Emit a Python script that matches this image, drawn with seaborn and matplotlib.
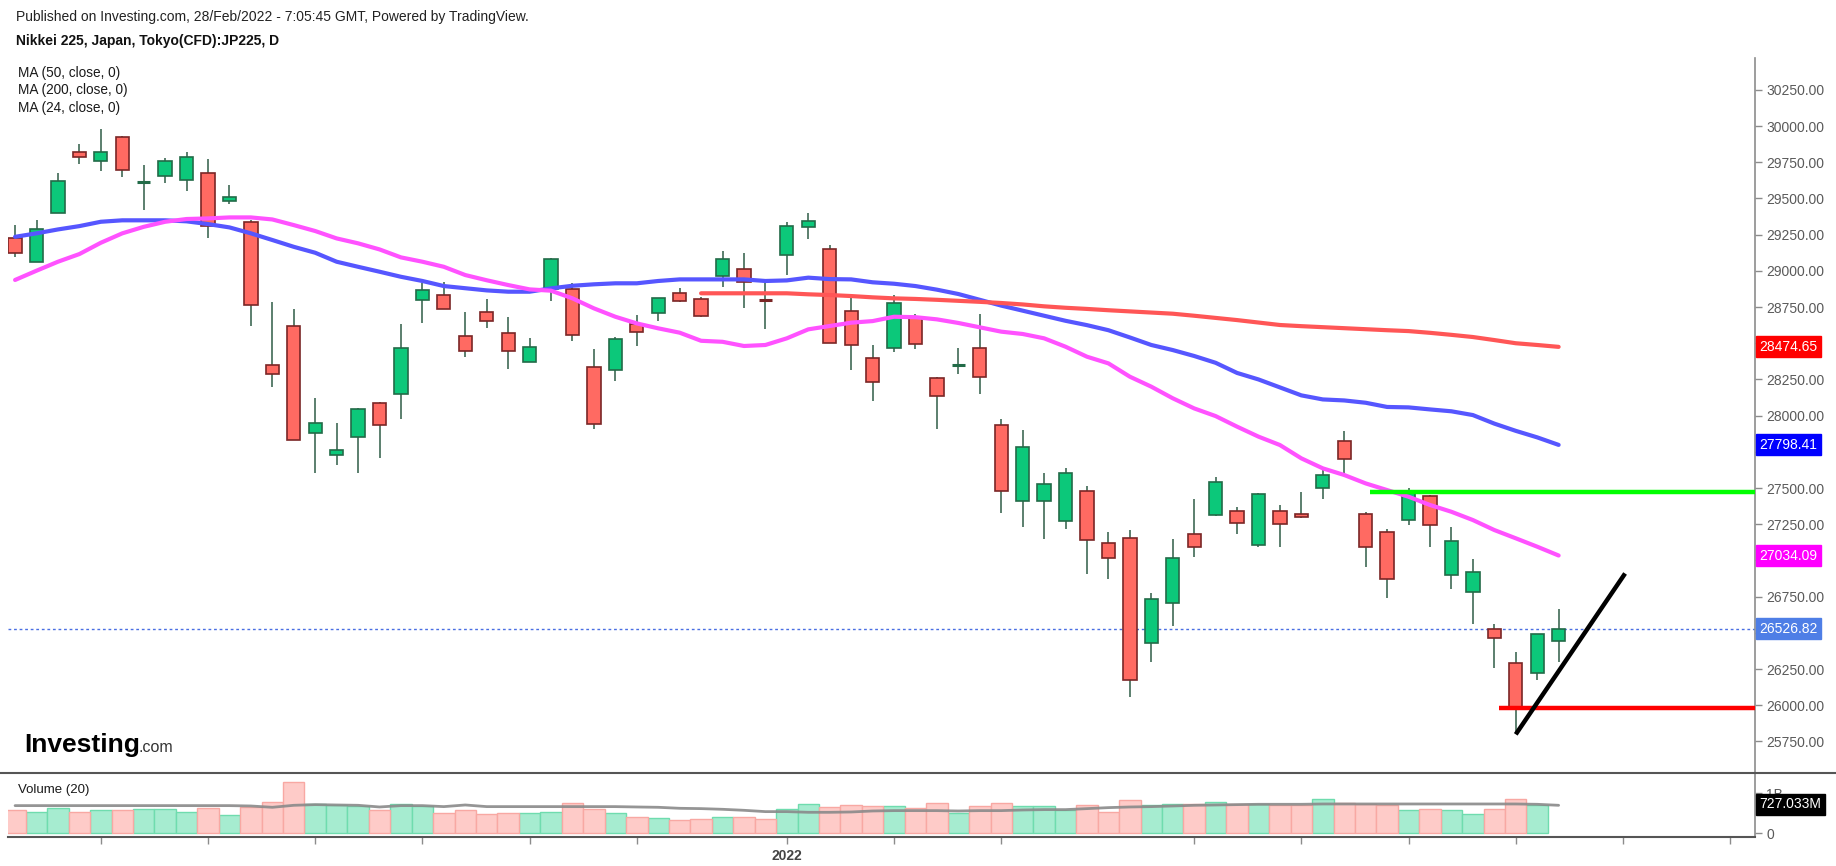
import numpy as np
import pandas as pd
import seaborn as sns
import matplotlib.pyplot as plt
from matplotlib.lines import Line2D

# daily candles, oldest first
opens = [29224, 29059, 29397, 29818, 29758, 29924, 29612, 29655, 29627, 29673,
         29482, 29337, 28352, 28621, 27878, 27730, 27850, 28085, 28152, 28798,
         28835, 28550, 28714, 28568, 28368, 28876, 28872, 28336, 28315, 28633,
         28711, 28845, 28803, 28964, 29010, 28808, 29111, 29300, 29148, 28722,
         28396, 28465, 28674, 28257, 28343, 28465, 27938, 27408, 27408, 27270,
         27479, 27118, 27153, 26432, 26704, 27180, 27314, 27341, 27106, 27341,
         27322, 27498, 27827, 27318, 27196, 27279, 27445, 26902, 26780, 26524,
         26289, 26220, 26446]
highs = [29314, 29351, 29675, 29876, 29979, 29930, 29728, 29779, 29823, 29770,
         29590, 29351, 28787, 28734, 28120, 27947, 28050, 28096, 28633, 28918,
         28925, 28718, 28803, 28683, 28534, 29086, 28914, 28460, 28545, 28695,
         28815, 28881, 28821, 29134, 29121, 28918, 29339, 29399, 29178, 28831,
         28488, 28831, 28704, 28265, 28465, 28700, 27975, 27901, 27602, 27638,
         27512, 27198, 27210, 26773, 27148, 27422, 27578, 27371, 27463, 27381,
         27474, 27643, 27896, 27336, 27215, 27498, 27452, 27233, 27008, 26559,
         26369, 26495, 26667]
lows = [29097, 29059, 29397, 29738, 29691, 29646, 29420, 29608, 29553, 29229,
        29461, 28621, 28200, 27832, 27606, 27657, 27606, 27709, 27977, 28642,
        28735, 28407, 28607, 28322, 28368, 28794, 28517, 27905, 28241, 28483,
        28656, 28788, 28679, 28890, 28745, 28598, 28969, 29217, 28499, 28313,
        28103, 28441, 28460, 27905, 28287, 28149, 27329, 27233, 27148, 27217,
        26904, 26872, 26059, 26300, 26550, 27026, 27307, 27182, 27090, 27095,
        27295, 27424, 27590, 26956, 26743, 27242, 27095, 26801, 26559, 26258,
        25799, 26174, 26300]
closes = [29121, 29291, 29622, 29784, 29818, 29696, 29614, 29758, 29784, 29309,
          29508, 28766, 28290, 27832, 27947, 27765, 28044, 27935, 28465, 28867,
          28738, 28446, 28653, 28446, 28472, 29079, 28557, 27944, 28527, 28575,
          28810, 28791, 28688, 29079, 28921, 28802, 29309, 29344, 28499, 28490,
          28230, 28775, 28494, 28135, 28347, 28264, 27477, 27781, 27530, 27602,
          27141, 27019, 26174, 26731, 27015, 27090, 27539, 27256, 27456, 27253,
          27297, 27592, 27703, 27090, 26874, 27470, 27247, 27134, 26920, 26462,
          25979, 26490, 26527]

ma50 = [29235, 29259, 29286, 29309, 29339, 29349, 29349, 29349, 29342, 29323,
        29300, 29259, 29213, 29166, 29125, 29063, 29028, 28994, 28959, 28930,
        28895, 28880, 28865, 28856, 28856, 28879, 28897, 28907, 28914, 28914,
        28930, 28941, 28941, 28941, 28941, 28930, 28934, 28953, 28943, 28941,
        28921, 28911, 28895, 28870, 28840, 28800, 28760, 28725, 28690, 28655,
        28625, 28590, 28540, 28488, 28453, 28412, 28365, 28295, 28250, 28195,
        28140, 28112, 28105, 28089, 28060, 28057, 28043, 28030, 28004, 27945,
        27895, 27850, 27798]
ma24 = [28937, 29001, 29063, 29116, 29194, 29259, 29304, 29339, 29358, 29362,
        29369, 29369, 29355, 29316, 29275, 29224, 29190, 29148, 29093, 29063,
        29028, 28971, 28935, 28902, 28872, 28863, 28810, 28741, 28683, 28637,
        28603, 28573, 28517, 28510, 28481, 28488, 28534, 28596, 28619, 28642,
        28653, 28683, 28680, 28665, 28640, 28610, 28580, 28564, 28534, 28476,
        28407, 28361, 28269, 28200, 28120, 28050, 27997, 27924, 27855, 27797,
        27705, 27636, 27590, 27532, 27486, 27440, 27383, 27336, 27279, 27210,
        27153, 27095, 27034]
ma200_start = 32
ma200 = [28845, 28845, 28845, 28845, 28845, 28838, 28833, 28826, 28817, 28810,
         28806, 28800, 28793, 28786, 28778, 28768, 28755, 28745, 28737, 28728,
         28720, 28712, 28704, 28690, 28675, 28660, 28643, 28626, 28618, 28611,
         28604, 28597, 28590, 28584, 28572, 28558, 28543, 28522, 28500, 28488,
         28475]

# volume in billions (no bar yet for the last candle)
volume = [0.583, 0.542, 0.633, 0.542, 0.575, 0.575, 0.600, 0.600, 0.542, 0.633,
          0.458, 0.667, 0.792, 1.290, 0.733, 0.708, 0.683, 0.583, 0.733, 0.683,
          0.508, 0.583, 0.483, 0.508, 0.508, 0.542, 0.767, 0.608, 0.508, 0.417,
          0.375, 0.333, 0.358, 0.417, 0.417, 0.358, 0.600, 0.733, 0.667, 0.708,
          0.675, 0.675, 0.633, 0.758, 0.508, 0.675, 0.758, 0.675, 0.675, 0.583,
          0.708, 0.542, 0.833, 0.708, 0.733, 0.733, 0.792, 0.733, 0.733, 0.708,
          0.708, 0.850, 0.758, 0.733, 0.708, 0.583, 0.600, 0.583, 0.483, 0.600,
          0.850, 0.708]
volume_ma = [0.692, 0.692, 0.692, 0.692, 0.692, 0.692, 0.692, 0.692, 0.692, 0.692,
             0.692, 0.683, 0.650, 0.700, 0.717, 0.708, 0.700, 0.658, 0.692, 0.692,
             0.667, 0.708, 0.667, 0.667, 0.667, 0.667, 0.667, 0.667, 0.667, 0.658,
             0.650, 0.625, 0.617, 0.600, 0.575, 0.542, 0.542, 0.525, 0.525, 0.533,
             0.558, 0.567, 0.567, 0.567, 0.558, 0.567, 0.567, 0.583, 0.592, 0.592,
             0.617, 0.642, 0.658, 0.667, 0.683, 0.700, 0.708, 0.717, 0.725, 0.725,
             0.725, 0.733, 0.733, 0.733, 0.733, 0.733, 0.733, 0.733, 0.733, 0.733,
             0.733, 0.725, 0.700]

price_ticks = [25750, 26000, 26250, 26500, 26750, 27000, 27250, 27500, 27750, 28000,
               28250, 28500, 28750, 29000, 29250, 29500, 29750, 30000, 30250]
hidden_ticks = [26500, 27000, 27750, 28500]   # covered by the last-value boxes
vol_ticks = [0, 1]
vol_tick_labels = ['0', '1B']
date_ticks = [4, 9, 14, 19, 24, 29, 36, 41, 46, 55, 60, 65, 70, 75, 80]
date_labels = ['', '', '', '', '', '', '2022', '', '', '', '', '', '', '', '']

last_labels = ['28474.65', '27798.41', '27034.09', '26526.82']
last_values = [28474.65, 27798.41, 27034.09, 26526.82]
last_colors = ['#ff0000', '#0000ff', '#ff00ff', '#4e7ee6']
vol_label = '727.033M'
vol_label_value = 0.727

# drawn lines
resistance = [63.2, 27470]
support = [69.2, 25979]
trend_x = [70.0, 75.1]
trend_y = [25799, 26910]

W, H = 1836, 866
XMIN, XMAX = -0.33, 81.16

sns.set_theme(style='white')
plt.rcParams['font.family'] = ['Liberation Sans', 'DejaVu Sans']

df = pd.DataFrame({'open': opens, 'high': highs, 'low': lows, 'close': closes,
                   'ma50': ma50, 'ma24': ma24})
df['i'] = np.arange(len(df))
df_ma200 = pd.DataFrame({'i': np.arange(ma200_start, ma200_start + len(ma200)), 'ma200': ma200})
vol_df = pd.DataFrame({'i': np.arange(len(volume)), 'vol': volume})
vol_df['up'] = (df['close'] >= df['open']).iloc[:len(volume)].values
vma_df = pd.DataFrame({'i': np.arange(len(volume_ma)), 'vma': volume_ma})


def frame(x0, y0, x1, y1):
    return [x0 / W, 1 - y1 / H, (x1 - x0) / W, (y1 - y0) / H]


fig = plt.figure(figsize=(W / 100, H / 100), dpi=100)
ax = fig.add_axes(frame(8, 58, 1755, 773))
vax = fig.add_axes(frame(8, 773, 1755, 837))

green, green_edge = '#0cc87a', '#226b48'
red, red_edge = '#ff6a62', '#7a2626'
wick = '#2f5d46'

# candles
ax.vlines(df['i'], df['low'], df['high'], color=wick, lw=1.1, zorder=2)
body_lo = np.minimum(df['open'], df['close'])
body_h = (df['close'] - df['open']).abs()
up = df['close'] >= df['open']
doji = body_h < 8
m = up & ~doji
ax.bar(df['i'][m], body_h[m], bottom=body_lo[m], width=0.62, color=green,
       edgecolor=green_edge, lw=1.2, zorder=3)
m = ~up & ~doji
ax.bar(df['i'][m], body_h[m], bottom=body_lo[m], width=0.62, color=red,
       edgecolor=red_edge, lw=1.2, zorder=3)
for _, r in df[doji].iterrows():
    c = green_edge if r['close'] >= r['open'] else red_edge
    ax.hlines(r['close'], r['i'] - 0.31, r['i'] + 0.31, color=c, lw=2.2, zorder=3)

# moving averages
sns.lineplot(data=df, x='i', y='ma50', ax=ax, color='#5656ff', lw=3, zorder=4)
sns.lineplot(data=df, x='i', y='ma24', ax=ax, color='#ff52ff', lw=3, zorder=4)
sns.lineplot(data=df_ma200, x='i', y='ma200', ax=ax, color='#ff5656', lw=3, zorder=4)

# annotations
ax.axhline(last_values[3], color='#4a6fe3', lw=1, ls=(0, (2, 2)), zorder=1)
ax.hlines(resistance[1], resistance[0], XMAX, color='#00ff00', lw=3.2, zorder=5)
ax.hlines(support[1], support[0], XMAX, color='#ff0000', lw=3.2, zorder=5)
ax.plot(trend_x, trend_y, color='black', lw=3.2, zorder=6, solid_capstyle='butt')

ax.set_xlim(XMIN, XMAX)
ax.set_ylim(25532, 30470)
ax.set_xticks([])
ax.set_yticks(price_ticks)
ax.set_yticklabels(['' if t in hidden_ticks else '%.2f' % t for t in price_ticks])
ax.yaxis.tick_right()
ax.tick_params(axis='y', length=5, width=1, color='#8c8c8c', labelcolor='#5a5a5a',
               labelsize=10, pad=3, right=True, left=False)
for s in ['top', 'left', 'bottom']:
    ax.spines[s].set_visible(False)
ax.spines['right'].set_color('#8c8c8c')
ax.spines['right'].set_linewidth(1.2)
ax.set_xlabel('')
ax.set_ylabel('')

for txt, val, col in zip(last_labels, last_values, last_colors):
    ax.annotate(txt, xy=(1, val), xycoords=('axes fraction', 'data'), xytext=(4.5, 0),
                textcoords='offset pixels', ha='left', va='center', color='white',
                fontsize=10, annotation_clip=False, zorder=10,
                bbox=dict(boxstyle='square,pad=0.25', fc=col, ec=col))

# volume panel
vax.bar(vol_df['i'][vol_df['up']], vol_df['vol'][vol_df['up']], width=1.0,
        color='#a6ecd0', edgecolor='#6fdcae', lw=1)
vax.bar(vol_df['i'][~vol_df['up']], vol_df['vol'][~vol_df['up']], width=1.0,
        color='#fecbc8', edgecolor='#f8a8a3', lw=1)
sns.lineplot(data=vma_df, x='i', y='vma', ax=vax, color='#8a8a8a', lw=2, alpha=0.9)
vax.set_xlim(XMIN, XMAX)
vax.set_ylim(-0.0925, 1.5075)
vax.set_yticks(vol_ticks)
vax.set_yticklabels(vol_tick_labels)
vax.yaxis.tick_right()
vax.tick_params(axis='y', length=5, width=1, color='#8c8c8c', labelcolor='#5a5a5a',
                labelsize=10, pad=3, right=True, left=False)
vax.set_xticks(date_ticks)
vax.set_xticklabels(date_labels)
vax.tick_params(axis='x', length=5, width=1, color='#8c8c8c', labelcolor='#444444',
                labelsize=10, pad=4, bottom=True)
for lbl in vax.get_xticklabels():
    lbl.set_fontweight('bold')
for s in ['top', 'left']:
    vax.spines[s].set_visible(False)
vax.spines['right'].set_color('#8c8c8c')
vax.spines['right'].set_linewidth(1.2)
vax.spines['bottom'].set_color('#555555')
vax.spines['bottom'].set_linewidth(1.5)
vax.set_xlabel('')
vax.set_ylabel('')
vax.annotate(vol_label, xy=(1, vol_label_value), xycoords=('axes fraction', 'data'),
             xytext=(4.5, 0), textcoords='offset pixels', ha='left', va='center',
             color='white', fontsize=10, annotation_clip=False, zorder=10,
             bbox=dict(boxstyle='square,pad=0.25', fc='black', ec='black'))

# separator between panels
fig.add_artist(Line2D([0, 1], [1 - 773 / H] * 2, transform=fig.transFigure,
                      color='#555555', lw=1.5))

# header texts
fig.text(16 / W, 1 - 17 / H, 'Published on Investing.com, 28/Feb/2022 - 7:05:45 GMT, Powered by TradingView.',
         fontsize=10, color='#222222', va='center')
fig.text(16 / W, 1 - 41 / H, 'Nikkei 225, Japan, Tokyo(CFD):JP225, D',
         fontsize=10, fontweight='bold', color='#111111', va='center')
for k, t in enumerate(['MA (50, close, 0)', 'MA (200, close, 0)', 'MA (24, close, 0)']):
    fig.text(18 / W, 1 - (73 + 17.3 * k) / H, t, fontsize=9.8, color='#1a1a1a', va='center')
fig.text(18 / W, 1 - 790 / H, 'Volume (20)', fontsize=9.5, color='#1a1a1a', va='center')

# logo
fig.text(24 / W, 1 - 752 / H, 'Investing', fontsize=19, fontweight='bold', color='black',
         va='baseline')
fig.text(138 / W, 1 - 752 / H, '.com', fontsize=11.5, color='#333333', va='baseline')

fig.savefig('out.png', dpi=100)
